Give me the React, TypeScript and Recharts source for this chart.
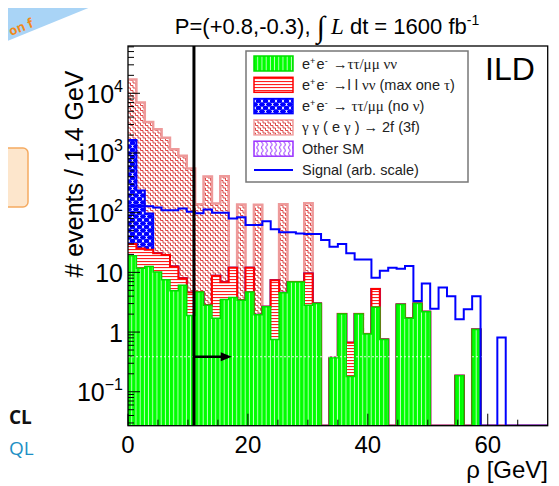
import React from 'react';
import { ComposedChart, Area, Line, XAxis, YAxis, ReferenceLine } from 'recharts';

// ---------------- data ----------------
const BIN_WIDTH = 1.4; // GeV
const X_MIN = 0;
const X_MAX = 70;
const Y_MIN = 0.027;
const Y_MAX = 62000;

// e+e- -> tautau/mumu nunu (green)
const ttmmNuNu = [19, 11.7, 12.5, 10.1, 7.5, 4.9, 6.1, 1.9, 4.7, 2.8,
  1.7, 3.5, 3.8, 3.4, 4.7, 1.95, 2.65, 0.75, 4.55, 6.9,
  6.9, 2.8, 3.0, 0, 0.37, 2.0, 0.18, 2.0, 0.93, 2.6,
  0.75, 0, 2.9, 1.7, 3.0, 2.2, 0, 0, 0, 0.185,
  0, 1.1, 0, 0, 0, 0, 0, 0, 0, 0];
// e+e- -> l l nunu (max one tau) (red)
const llNuNu = [11, 13.3, 11.5, 10.9, 12, 7.6, 1.9, 2.7, 0, 0,
  7.1, 3.3, 8.2, 0, 7.3, 0, 0, 6.65, 0, 0,
  0, 6.8, 0, 0, 0, 0, 0.48, 0, 0, 2.65,
  0, 0, 0, 0, 0, 0, 0, 0, 0, 0,
  0, 0, 0, 0, 0, 0, 0, 0, 0, 0];
// e+e- -> tautau/mumu (no nu) (blue)
const ttmmNoNu = [1620, 210, 73, 0, 0, 0, 0, 0, 0, 0,
  0, 0, 0, 0, 0, 0, 0, 0, 0, 0,
  0, 0, 0, 0, 0, 0, 0, 0, 0, 0,
  0, 0, 0, 0, 0, 0, 0, 0, 0, 0,
  0, 0, 0, 0, 0, 0, 0, 0, 0, 0];
// gamma gamma (e gamma) -> 2f (3f) (pink)
const gammaGamma = [15350, 6760, 3200, 2480, 1780, 1140, 890, 545, 134, 402,
  134, 402, 0, 134, 0, 134, 0, 0, 134, 0,
  0, 134, 0, 0, 0, 0, 0, 0, 0, 0,
  0, 0, 0, 0, 0, 0, 0, 0, 0, 0,
  0, 0, 0, 0, 0, 0, 0, 0, 0, 0];
// Other SM (purple)
const otherSM = [0, 0, 0, 0, 0, 0, 0, 0, 0, 0,
  0, 0, 0, 0, 0, 0, 0, 0, 0, 0,
  0, 0, 0, 0, 0, 0, 0, 0, 0, 0,
  0, 0, 0, 0, 0, 0, 0, 0, 0, 0,
  0, 0, 0, 0, 0, 0, 0, 0, 0, 0];
// Signal (arb. scale)
const signal = [130, 130, 128, 122, 110, 110, 118, 104, 98, 113,
  100, 100, 80, 84, 62, 62, 72, 53, 47, 47,
  45, 44, 44, 35, 27, 30, 21, 16.5, 16.5, 8.1,
  10.6, 12, 11.5, 12.8, 3.3, 6.5, 2.45, 5.6, 4.0, 1.64,
  2.4, 4.0, 0, 0, 0.81, 0, 0, 0, 0, 0];

const X_MAJOR_TICKS = [0, 20, 40, 60];
const X_MINOR_STEP = 5;
const Y_MAJOR_TICKS = [0.1, 1, 10, 100, 1000, 10000];
const Y_TICK_BASE = ['10', '1', '10', '10', '10', '10'];
const Y_TICK_EXP = ['\u22121', '', '', '2', '3', '4'];

const CUT_X = 11;
const ARROW_END_X = 17.3;
const ARROW_Y = 0.386;
const DASH_END_X = 59.5;

const LEGEND_ITEMS = ['green', 'red', 'blue', 'pink', 'purple', 'signal'];

// ---------------- layout ----------------
const W = 551;
const H = 478;
const PL = 120;
const PT = 38;
const PR = 539.7;
const PB = 417.7;
const FONT = "'Liberation Sans', Arial, Helvetica, sans-serif";
const SERIF = "'Liberation Serif', 'Times New Roman', serif";

const nBins = ttmmNuNu.length;
const clampLog = (v: number) => Math.max(v, Y_MIN);
const rows = Array.from({ length: nBins + 1 }, (_, i) => {
  const b = Math.min(i, nBins - 1);
  const g = ttmmNuNu[b];
  const r = g + llNuNu[b];
  const bl = r + ttmmNoNu[b];
  const p = bl + gammaGamma[b];
  const o = p + otherSM[b];
  return {
    x: Math.round(i * BIN_WIDTH * 100) / 100,
    green: clampLog(g),
    red: clampLog(r),
    blue: clampLog(bl),
    pink: clampLog(p),
    other: clampLog(o),
    signal: clampLog(signal[b]),
  };
});

const xTicks: number[] = [];
for (let v = X_MIN; v < X_MAX; v += X_MINOR_STEP) xTicks.push(v);

const yTicks: number[] = [];
for (let e = -2; e <= 4; e++) {
  for (let k = 1; k <= 9; k++) {
    const v = parseFloat((k * Math.pow(10, e)).toPrecision(6));
    if (v >= Y_MIN && v <= Y_MAX) yTicks.push(v);
  }
}

const renderXTick = (props: any) => {
  const { x, payload } = props;
  const v = payload.value;
  const major = X_MAJOR_TICKS.includes(v);
  return (
    <g>
      <line x1={x} x2={x} y1={PB} y2={PB - (major ? 12 : 6)} stroke="#000" strokeWidth={1} />
      {major && (
        <text x={x} y={PB + 27} textAnchor="middle" fontSize={24} fontFamily={FONT} fill="#000">
          {String(v)}
        </text>
      )}
    </g>
  );
};

const renderYTick = (props: any) => {
  const { y, payload } = props;
  const v = payload.value;
  const idx = Y_MAJOR_TICKS.findIndex((m) => Math.abs(m - v) / m < 1e-6);
  const major = idx >= 0;
  return (
    <g>
      <line x1={PL} x2={PL + (major ? 12 : 6)} y1={y} y2={y} stroke="#000" strokeWidth={1} />
      {major && (
        <text x={PL - 5} y={y + 9.5} textAnchor="end" fontSize={25} fontFamily={FONT} fill="#000">
          {Y_TICK_BASE[idx]}
          {Y_TICK_EXP[idx] && (
            <tspan dy={-11} fontSize={16}>
              {Y_TICK_EXP[idx]}
            </tspan>
          )}
        </text>
      )}
    </g>
  );
};

const arrowShape = (p: any) => {
  const { x1, y1, x2, y2 } = p;
  return (
    <g>
      <line x1={x1} y1={y1} x2={x2 - 6} y2={y2} stroke="#000" strokeWidth={2.5} />
      <polygon points={`${x2},${y2} ${x2 - 11},${y2 - 4.5} ${x2 - 11},${y2 + 4.5}`} fill="#000" />
    </g>
  );
};

const Patterns = () => (
  <svg width={0} height={0} style={{ position: 'absolute' }}>
    <defs>
      <pattern id="hGreen" patternUnits="userSpaceOnUse" x={PL} y={0} width={4.2} height={10}>
        <rect width={4.2} height={10} fill="#00ff00" />
        <rect x={3.3} y={0} width={0.9} height={10} fill="#ffffff" opacity={0.8} />
      </pattern>
      <pattern id="hRed" patternUnits="userSpaceOnUse" width={6} height={3}>
        <rect width={6} height={3} fill="#ffffff" />
        <rect y={1} width={6} height={1.1} fill="#ff2020" />
      </pattern>
      <pattern id="hBlue" patternUnits="userSpaceOnUse" width={7} height={7}>
        <rect width={7} height={7} fill="#0000ff" />
        <path d="M0.8,0.8 L3.2,3.2 M3.2,0.8 L0.8,3.2 M2,0.4 V3.6 M4.3,4.3 L6.7,6.7 M6.7,4.3 L4.3,6.7 M5.5,3.9 V7.1" stroke="#ffffff" strokeWidth={0.8} />
      </pattern>
      <pattern id="hPink" patternUnits="userSpaceOnUse" width={5} height={5}>
        <rect width={5} height={5} fill="#ffffff" />
        <path d="M0,0 H2.5 V2.5 H5 V5 M0,5 H2.5 M0,2.5 V5" stroke="#dc4646" strokeWidth={1} fill="none" />
      </pattern>
      <pattern id="hPurple" patternUnits="userSpaceOnUse" width={4.5} height={6}>
        <rect width={4.5} height={6} fill="#ffffff" />
        <path d="M2.2,0 Q0.7,1.5 2.2,3 Q3.7,4.5 2.2,6" stroke="#9a33ff" strokeWidth={1} fill="none" />
      </pattern>
    </defs>
  </svg>
);

const Sup = ({ children }: { children: string }) => (
  <>
    <tspan dy={-5} fontSize={9}>{children}</tspan>
    <tspan dy={5}>{'\u200a'}</tspan>
  </>
);

const legendText = (kind: string) => {
  const gr = { fontFamily: SERIF, fontSize: 15 } as any;
  switch (kind) {
    case 'green':
      return (<>e<Sup>+</Sup>e<Sup>-</Sup> →<tspan {...gr}>ττ/μμ νν</tspan></>);
    case 'red':
      return (<>e<Sup>+</Sup>e<Sup>-</Sup> →l l  <tspan {...gr}>νν</tspan> (max one <tspan {...gr}>τ</tspan>)</>);
    case 'blue':
      return (<>e<Sup>+</Sup>e<Sup>-</Sup> → <tspan {...gr}>ττ/μμ</tspan> (no <tspan {...gr}>ν</tspan>)</>);
    case 'pink':
      return (<><tspan {...gr}>γ γ</tspan> ( e <tspan {...gr}>γ</tspan> ) → 2f (3f)</>);
    case 'purple':
      return <>Other SM</>;
    default:
      return <>Signal (arb. scale)</>;
  }
};

const swatch = (kind: string, x: number, y: number, w: number, h: number) => {
  const map: any = {
    green: ['url(#hGreen)', '#00dd00'],
    red: ['url(#hRed)', '#ff0000'],
    blue: ['url(#hBlue)', '#0000ff'],
    pink: ['url(#hPink)', '#f0a0a0'],
    purple: ['url(#hPurple)', '#9a33ff'],
  };
  if (kind === 'signal') {
    return <line x1={x} x2={x + w} y1={y + h / 2} y2={y + h / 2} stroke="#0000ff" strokeWidth={2} />;
  }
  const [fill, stroke] = map[kind];
  return <rect x={x} y={y} width={w} height={h} fill={fill} stroke={stroke} strokeWidth={1.5} />;
};

// Slide decorations around the cropped plot, in page coordinates
const Decorations = () => (
  <svg width={559} height={486} style={{ position: 'absolute', left: -8, top: -8 }}>
    <polygon points="0,0 108,0 0,44" fill="#a9d4f6" />
    <text x={11} y={36} fontSize={13} fontWeight="bold" fill="#f08a1c" transform="rotate(-22 11 36)" fontFamily="'Open Sans', sans-serif">on f</text>
    <rect x={-6} y={148} width={34} height={59} rx={5} fill="#fde6cc" stroke="#f5aa60" strokeWidth={1.5} />
    <text x={9} y={424} fontSize={19} fontWeight="bold" fill="#111" fontFamily="'Open Sans', sans-serif">CL</text>
    <text x={9} y={455} fontSize={19} fill="#1c8fc4" fontFamily="'Open Sans', sans-serif">QL</text>
  </svg>
);

const Overlay = () => {
  const lx = 238;
  const ly = 43;
  const lw = 222;
  const lh = 131;
  const rowY0 = 55.5;
  const rowStep = 21.3;
  return (
    <svg width={W} height={H} style={{ position: 'absolute', left: 0, top: 0 }} fontFamily={FONT}>
      {/* frame */}
      <rect x={PL} y={PT} width={PR - PL} height={PB - PT} fill="none" stroke="#000" strokeWidth={1.3} />

      {/* title */}
      <text x={319} y={26} textAnchor="middle" fontSize={22} fill="#000">
        <tspan>P=(+0.8,-0.3), </tspan>
        <tspan fontSize={30} fontFamily={SERIF} dy={3}>∫</tspan>
        <tspan dy={-3}> </tspan>
        <tspan fontStyle="italic" fontFamily={SERIF} fontSize={23}>L</tspan>
        <tspan> dt = 1600 fb</tspan>
        <tspan dy={-9} fontSize={14}>-1</tspan>
      </text>

      {/* axis titles */}
      <text x={540} y={470} textAnchor="end" fontSize={24} fill="#000">ρ [GeV]</text>
      <text x={0} y={0} transform="translate(75 166) rotate(-90)" textAnchor="middle" fontSize={25} fill="#000">
        # events / 1.4 GeV
      </text>

      {/* ILD */}
      <text x={502} y={72} textAnchor="middle" fontSize={32} fill="#000">ILD</text>

      {/* legend */}
      <rect x={lx} y={ly} width={lw} height={lh} fill="#ffffff" stroke="#777" strokeWidth={1.5} />
      {LEGEND_ITEMS.map((kind, i) => {
        const cy = rowY0 + i * rowStep;
        return (
          <g key={kind}>
            {swatch(kind, 246, cy - 7.5, 39, 15)}
            <text x={294} y={cy + 5} fontSize={14.5} fill="#222">
              {legendText(kind)}
            </text>
          </g>
        );
      })}
    </svg>
  );
};

export default function App() {
  return (
    <div style={{ position: 'relative', width: W, height: H }}>
      <Decorations />
      <Patterns />
      <ComposedChart
        width={W}
        height={H}
        data={rows}
        margin={{ top: PT, left: 60, right: W - PR, bottom: H - PB - 30 }}
        style={{ position: 'relative' }}
      >
        <XAxis
          dataKey="x"
          type="number"
          domain={[X_MIN, X_MAX]}
          allowDataOverflow
          ticks={xTicks}
          interval={0}
          tickLine={false}
          axisLine={false}
          tick={renderXTick}
          height={30}
        />
        <YAxis
          type="number"
          scale="log"
          domain={[Y_MIN, Y_MAX]}
          allowDataOverflow
          ticks={yTicks}
          interval={0}
          tickLine={false}
          axisLine={false}
          tick={renderYTick}
          width={60}
        />
        <Area type="stepAfter" dataKey="other" baseValue={Y_MIN} stroke="#9a33ff" strokeWidth={1} fill="url(#hPurple)" fillOpacity={1} isAnimationActive={false} dot={false} activeDot={false} />
        <Area type="stepAfter" dataKey="pink" baseValue={Y_MIN} stroke="#ee9a9a" strokeWidth={2.5} fill="url(#hPink)" fillOpacity={1} isAnimationActive={false} dot={false} activeDot={false} />
        <Area type="stepAfter" dataKey="blue" baseValue={Y_MIN} stroke="#0000ff" strokeWidth={2} fill="url(#hBlue)" fillOpacity={1} isAnimationActive={false} dot={false} activeDot={false} />
        <Area type="stepAfter" dataKey="red" baseValue={Y_MIN} stroke="#ff0000" strokeWidth={2} fill="url(#hRed)" fillOpacity={1} isAnimationActive={false} dot={false} activeDot={false} />
        <Area type="stepAfter" dataKey="green" baseValue={Y_MIN} stroke="#00dd00" strokeWidth={1.5} fill="url(#hGreen)" fillOpacity={1} isAnimationActive={false} dot={false} activeDot={false} />
        <ReferenceLine segment={[{ x: X_MIN, y: ARROW_Y }, { x: DASH_END_X, y: ARROW_Y }]} stroke="#ffffff" strokeWidth={1} strokeDasharray="2 2" strokeOpacity={0.85} />
        <Line type="stepAfter" dataKey="signal" stroke="#0000ff" strokeWidth={2} dot={false} activeDot={false} isAnimationActive={false} />
        <ReferenceLine x={CUT_X} stroke="#000" strokeWidth={3} />
        <ReferenceLine segment={[{ x: CUT_X, y: ARROW_Y }, { x: ARROW_END_X, y: ARROW_Y }]} shape={arrowShape} />
      </ComposedChart>
      <Overlay />
    </div>
  );
}
